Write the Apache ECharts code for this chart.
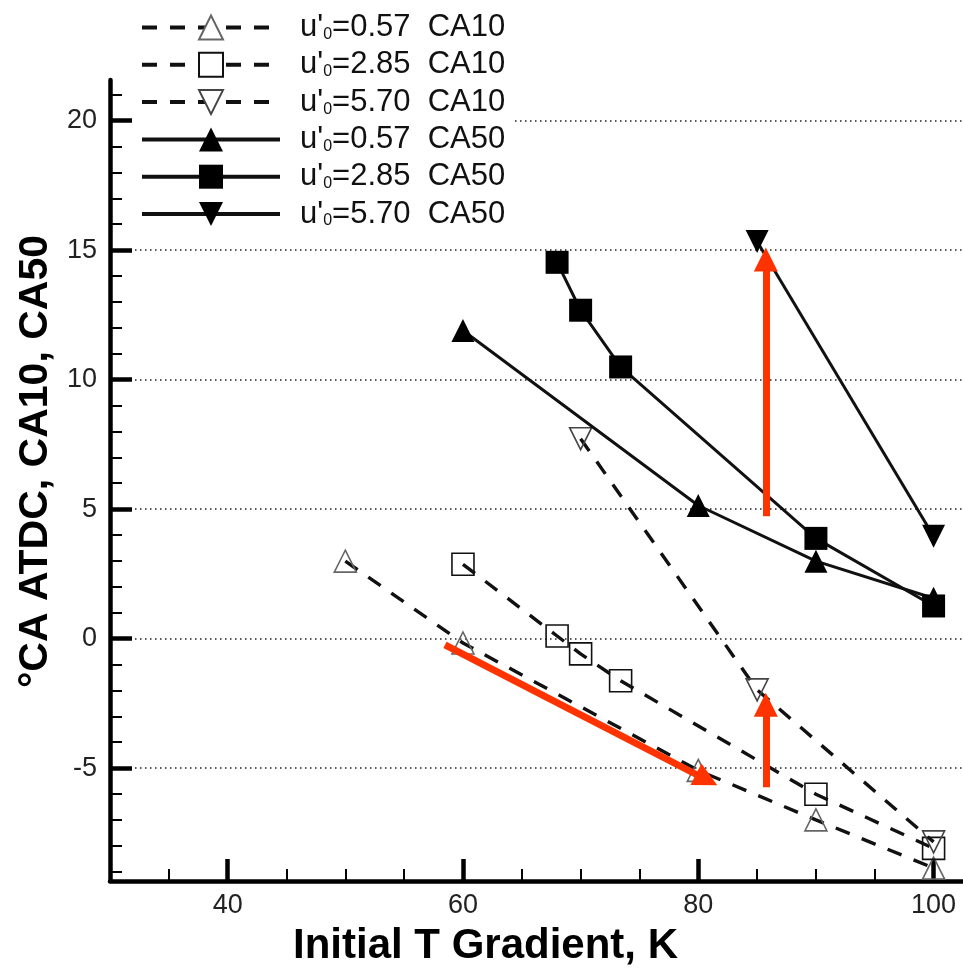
<!DOCTYPE html>
<html>
<head>
<meta charset="utf-8">
<script src="https://cdn.jsdelivr.net/npm/echarts@6/dist/echarts.min.js"></script>
<style>
  html, body { margin: 0; padding: 0; background: #fff; }
  #chart { width: 963px; height: 972px; }
</style>
</head>
<body>
<div id="chart"></div>
<script>
// Combustion phasing (CA10 / CA50) versus initial temperature gradient
const seriesNames = [
  "u'\u2080=0.57  CA10",
  "u'\u2080=2.85  CA10",
  "u'\u2080=5.70  CA10",
  "u'\u2080=0.57  CA50",
  "u'\u2080=2.85  CA50",
  "u'\u2080=5.70  CA50"
];

const ca10_057_x = [50, 60, 80, 90, 100];
const ca10_057_y = [2.99, -0.17, -5.09, -7.0, -8.86];
const ca10_285_x = [60, 68, 70, 73.4, 90, 100];
const ca10_285_y = [2.87, 0.1, -0.59, -1.63, -6.01, -8.1];
const ca10_570_x = [70, 85, 100];
const ca10_570_y = [7.72, -1.98, -7.85];
const ca50_057_x = [60, 80, 90, 100];
const ca50_057_y = [11.9, 5.14, 2.99, 1.56];
const ca50_285_x = [68, 70, 73.4, 90, 100];
const ca50_285_y = [14.53, 12.68, 10.49, 3.87, 1.26];
const ca50_570_x = [85, 100];
const ca50_570_y = [15.33, 3.95];

// axis ticks
const yMajorTicks = [-5, 0, 5, 10, 15, 20];
const yMinorTicks = [-9, -8, -7, -6, -4, -3, -2, -1, 1, 2, 3, 4, 6, 7, 8, 9, 11, 12, 13, 14, 16, 17, 18, 19, 21];
const xMajorTicks = [40, 60, 80, 100];
const xMinorTicks = [35, 45, 50, 55, 65, 70, 75, 85, 90, 95];

// red trend arrows: [x0, y0, x1, y1] (x1, y1 = centre of the arrow head)
const arrows = [
  [85.74, 4.72, 85.74, 14.64],
  [85.74, -5.74, 85.74, -2.55],
  [58.47, -0.24, 80.71, -5.45]
];

const FONT = "'Liberation Sans', Arial, Helvetica, sans-serif";
const RED = '#ff3300';

function pairs(xs, ys) { return xs.map((x, i) => [x, ys[i]]); }

function makeSeries(name, xs, ys, dashed, symbol, rotate, filled, border) {
  return {
    name: name,
    type: 'line',
    data: pairs(xs, ys),
    symbol: symbol,
    symbolRotate: rotate,
    symbolSize: filled ? 23 : 22,
    showAllSymbol: true,
    lineStyle: { color: '#111', width: dashed ? 3.4 : 3, type: dashed ? [15, 13] : 'solid' },
    itemStyle: filled
      ? { color: '#000', borderWidth: 0 }
      : { color: 'rgba(255,255,255,0)', borderColor: border, borderWidth: 1.6 },
    emphasis: { disabled: true },
    z: filled ? 3 : 2
  };
}

const series = [
  makeSeries(seriesNames[0], ca10_057_x, ca10_057_y, true, 'triangle', 0, false, '#666'),
  makeSeries(seriesNames[1], ca10_285_x, ca10_285_y, true, 'rect', 0, false, '#111'),
  makeSeries(seriesNames[2], ca10_570_x, ca10_570_y, true, 'triangle', 180, false, '#444'),
  makeSeries(seriesNames[3], ca50_057_x, ca50_057_y, false, 'triangle', 0, true),
  makeSeries(seriesNames[4], ca50_285_x, ca50_285_y, false, 'rect', 0, true),
  makeSeries(seriesNames[5], ca50_570_x, ca50_570_y, false, 'triangle', 180, true)
];

series.push({
  name: 'arrows',
  type: 'line',
  data: [],
  silent: true,
  markLine: {
    silent: true,
    animation: false,
    symbol: ['none', 'triangle'],
    symbolSize: 24,
    label: { show: false },
    emphasis: { disabled: true },
    itemStyle: { color: RED },
    lineStyle: { color: RED, width: 7, type: 'solid', cap: 'butt' },
    data: arrows.map(a => [{ coord: [a[0], a[1]] }, { coord: [a[2], a[3]] }])
  },
  z: 5
});

const chart = echarts.init(document.getElementById('chart'), null, { renderer: 'canvas' });

chart.setOption({
  animation: false,
  backgroundColor: '#fff',
  grid: { left: 110, right: 0, top: 80, bottom: 88, containLabel: false },
  legend: {
    data: seriesNames.map((n, i) => i < 3
      ? { name: n, itemStyle: { color: '#fff' } }
      : { name: n }),
    orient: 'vertical',
    left: 135,
    top: 7,
    padding: [5, 8, 5, 5],
    backgroundColor: '#fff',
    itemWidth: 138,
    itemHeight: 30,
    itemGap: 6.3,
    selectedMode: false,
    lineStyle: { width: 4 },
    formatter: function (name) {
      const parts = name.split('\u2080');
      return '{g| }{m|' + parts[0] + '}{s|0}{m|' + parts[1] + '}';
    },
    textStyle: {
      rich: {
        g: { width: 15, fontSize: 12 },
        m: { fontSize: 31, fontFamily: FONT, color: '#111', lineHeight: 30 },
        s: { fontSize: 16, fontFamily: FONT, color: '#111', lineHeight: 30, verticalAlign: 'bottom' }
      }
    }
  },
  xAxis: [
    {
      type: 'value', min: 30, max: 102.5, position: 'bottom',
      name: 'Initial T Gradient, K',
      nameLocation: 'middle',
      nameGap: 44,
      nameTextStyle: { fontFamily: FONT, fontSize: 42, fontWeight: 'bold', color: '#000', padding: [0, 102, 0, 0] },
      axisLine: { show: true, onZero: false, lineStyle: { color: '#000', width: 4.5 } },
      axisTick: { show: true, inside: true, length: 22, lineStyle: { color: '#000', width: 4.5 }, customValues: xMajorTicks },
      axisLabel: { show: true, customValues: xMajorTicks, fontFamily: FONT, fontSize: 27, color: '#222', margin: 11 },
      splitLine: { show: false }
    },
    {
      type: 'value', min: 30, max: 102.5, position: 'bottom',
      axisLine: { show: false, onZero: false },
      axisTick: { show: true, inside: true, length: 12, lineStyle: { color: '#000', width: 2 }, customValues: xMinorTicks },
      axisLabel: { show: false },
      splitLine: { show: false }
    }
  ],
  yAxis: [
    {
      type: 'value', min: -9.36, max: 21.57, position: 'left',
      name: '\u00b0CA ATDC, CA10, CA50',
      nameLocation: 'middle',
      nameGap: 52,
      nameRotate: 90,
      nameTextStyle: { fontFamily: FONT, fontSize: 41, fontWeight: 'bold', color: '#000', padding: [0, 0, 0, 38] },
      axisLine: { show: true, onZero: false, lineStyle: { color: '#000', width: 4.5 } },
      axisTick: { show: true, inside: true, length: 22, lineStyle: { color: '#000', width: 4.5 }, customValues: yMajorTicks },
      axisLabel: { show: true, customValues: yMajorTicks, fontFamily: FONT, fontSize: 27, color: '#222', margin: 13 },
      splitLine: { show: true, lineStyle: { color: '#222', width: 1.5, type: [1.5, 3.5] } }
    },
    {
      type: 'value', min: -9.36, max: 21.57, position: 'left',
      axisLine: { show: false, onZero: false },
      axisTick: { show: true, inside: true, length: 12, lineStyle: { color: '#000', width: 2 }, customValues: yMinorTicks },
      axisLabel: { show: false },
      splitLine: { show: false }
    }
  ],
  series: series
});
</script>
</body>
</html>
